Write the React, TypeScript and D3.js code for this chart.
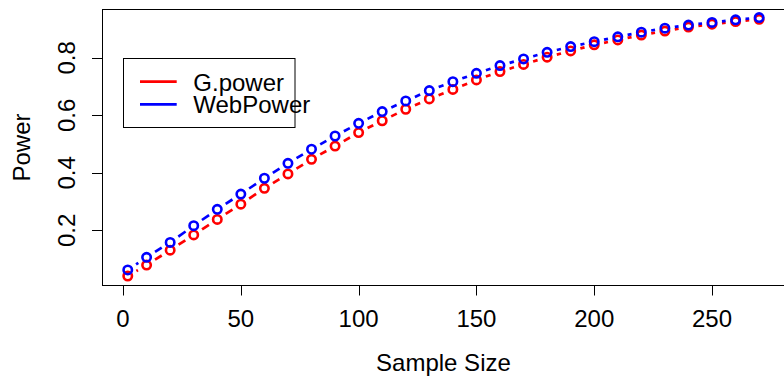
import * as d3 from 'd3';

// ─── Data ───────────────────────────────────────────────────

const sampleSizes = [2, 10, 20, 30, 40, 50, 60, 70, 80, 90, 100, 110, 120, 130, 140,
  150, 160, 170, 180, 190, 200, 210, 220, 230, 240, 250, 260, 270];

const gpowerValues = [0.041, 0.079, 0.131, 0.184, 0.238, 0.291, 0.346, 0.396, 0.447,
  0.493, 0.540, 0.581, 0.621, 0.657, 0.690, 0.723, 0.752, 0.777, 0.802, 0.824, 0.845,
  0.862, 0.879, 0.893, 0.907, 0.917, 0.926, 0.934];

const webpowerValues = [0.062, 0.106, 0.158, 0.216, 0.273, 0.326, 0.381, 0.433, 0.482,
  0.528, 0.572, 0.613, 0.650, 0.686, 0.717, 0.746, 0.773, 0.796, 0.819, 0.839, 0.856,
  0.873, 0.889, 0.903, 0.914, 0.923, 0.932, 0.940];

const seriesNames = ['G.power', 'WebPower'];
const seriesColors = ['#ff0000', '#0000ff'];

const xTicks = [0, 50, 100, 150, 200, 250];
const yTicks = [0.2, 0.4, 0.6, 0.8];
const yTickLabels = ['0.2', '0.4', '0.6', '0.8'];
const yDomain: [number, number] = [0.008, 0.968];

// ─── Layout ─────────────────────────────────────────────────

const W = 784;
const H = 376;
const plot = { left: 102.5, right: 784.4, top: 9.5, bottom: 285.5 };
const FONT = '"Liberation Sans", Arial, Helvetica, sans-serif';
const FS = 24;
const GAP = 10; // type="b" gap around each point

export default function App() {
  const [xmin, xmax] = d3.extent(sampleSizes) as [number, number];
  const xpad = (xmax - xmin) * 0.04;
  const x = d3.scaleLinear().domain([xmin - xpad, xmax + xpad]).range([plot.left, plot.right]);
  const y = d3.scaleLinear().domain(yDomain).range([plot.bottom, plot.top]);

  const series = [gpowerValues, webpowerValues];

  const segments = (vals: number[]) => {
    const pts = sampleSizes.map((n, i) => [x(n), y(vals[i])]);
    const out: { x1: number; y1: number; x2: number; y2: number }[] = [];
    for (let i = 0; i < pts.length - 1; i++) {
      const [ax, ay] = pts[i];
      const [bx, by] = pts[i + 1];
      const dx = bx - ax, dy = by - ay;
      const len = Math.hypot(dx, dy);
      if (len <= 2 * GAP) continue;
      const ux = dx / len, uy = dy / len;
      out.push({ x1: ax + ux * GAP, y1: ay + uy * GAP, x2: bx - ux * GAP, y2: by - uy * GAP });
    }
    return out;
  };

  const midX = (plot.left + plot.right) / 2;
  const midY = (plot.top + plot.bottom) / 2;

  return (
    <svg width={W} height={H} style={{ position: 'absolute', left: 0, top: 0, background: '#fff' }}
      fontFamily={FONT} fontSize={FS}>
      {/* series */}
      {series.map((vals, si) => (
        <g key={si}>
          {segments(vals).map((s, i) => (
            <line key={i} x1={s.x1} y1={s.y1} x2={s.x2} y2={s.y2}
              stroke={seriesColors[si]} strokeWidth={2.7} strokeDasharray="10 10" />
          ))}
          {sampleSizes.map((n, i) => (
            <circle key={i} cx={x(n)} cy={y(vals[i])} r={4.2}
              fill="none" stroke={seriesColors[si]} strokeWidth={2.6} />
          ))}
        </g>
      ))}

      {/* box */}
      <rect x={plot.left} y={plot.top} width={plot.right - plot.left + 0.6} height={plot.bottom - plot.top}
        fill="none" stroke="#000" strokeWidth={1} />

      {/* x axis */}
      {xTicks.map((t) => (
        <g key={t}>
          <line x1={Math.round(x(t)) + 0.5} x2={Math.round(x(t)) + 0.5} y1={plot.bottom} y2={plot.bottom + 10}
            stroke="#000" strokeWidth={1} />
          <text x={x(t)} y={326.5} textAnchor="middle" fill="#000">{t}</text>
        </g>
      ))}
      <text x={midX} y={371} textAnchor="middle" fill="#000">Sample Size</text>

      {/* y axis */}
      {yTicks.map((t, i) => (
        <g key={t}>
          <line x1={plot.left - 10.5} x2={plot.left} y1={Math.round(y(t)) + 0.5} y2={Math.round(y(t)) + 0.5}
            stroke="#000" strokeWidth={1} />
          <text transform={`translate(75,${y(t)}) rotate(-90)`} textAnchor="middle" fill="#000">
            {yTickLabels[i]}
          </text>
        </g>
      ))}
      <text transform={`translate(30,${midY}) rotate(-90)`} textAnchor="middle" fill="#000">Power</text>

      {/* legend */}
      <rect x={123.5} y={58.5} width={171.5} height={69} fill="#fff" stroke="#000" strokeWidth={1} />
      {seriesNames.map((name, i) => (
        <g key={name}>
          <line x1={140} x2={176.7} y1={81.7 + i * 22.6} y2={81.7 + i * 22.6}
            stroke={seriesColors[i]} strokeWidth={2.7} />
          <text x={193.3} y={90.5 + i * 22.6} fill="#000">{name}</text>
        </g>
      ))}
    </svg>
  );
}
